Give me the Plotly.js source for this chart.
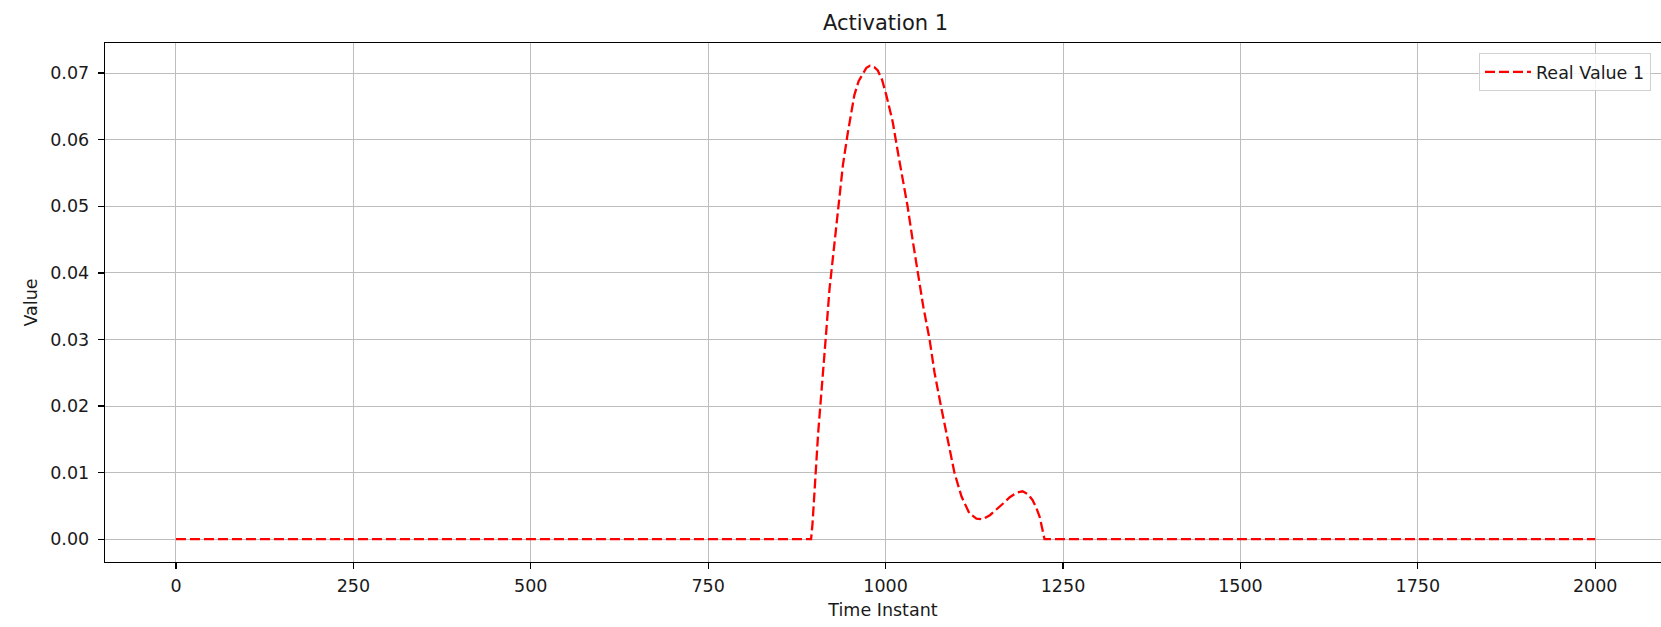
<!DOCTYPE html>
<html>
<head>
<meta charset="utf-8">
<script src="https://cdn.plot.ly/plotly-3.0.1.min.js"></script>
<style>html,body{margin:0;padding:0;background:#fff;}#chart{width:1661px;height:627px;}</style>
</head>
<body>
<div id="chart"></div>
<script>
// Data
const timeInstant = [0, 895, 897, 901, 905, 908, 912, 915.5, 921, 928, 933, 940, 947, 956, 962, 968, 973, 978,
  984, 989, 995, 1001, 1010, 1018, 1025, 1031, 1038, 1045, 1053, 1062, 1069, 1078, 1088, 1097, 1107, 1118,
  1128, 1137, 1147, 1156, 1166, 1175, 1185, 1193, 1200, 1207, 1212, 1217, 1221, 1224, 2000];
const realValue1 = [0, 0, 0.0023, 0.010, 0.016, 0.020, 0.026, 0.030, 0.0376, 0.0443, 0.050, 0.0563, 0.0612, 0.0667, 0.0688, 0.0700, 0.0708, 0.0711,
  0.0709, 0.0704, 0.0690, 0.0667, 0.0627, 0.0577, 0.0535, 0.050, 0.045, 0.040, 0.035, 0.030, 0.025, 0.020, 0.015, 0.010, 0.0064, 0.0039,
  0.0031, 0.0030, 0.0036, 0.0044, 0.0054, 0.0063, 0.0070, 0.0072, 0.0068, 0.0059, 0.0048, 0.0034, 0.0015, 0, 0];
const xTicks = [0, 250, 500, 750, 1000, 1250, 1500, 1750, 2000];
const yTicks = [0, 0.01, 0.02, 0.03, 0.04, 0.05, 0.06, 0.07];
const yTickLabels = ["0.00", "0.01", "0.02", "0.03", "0.04", "0.05", "0.06", "0.07"];
const seriesName = "Real Value 1";

const font = {family: "DejaVu Sans, sans-serif", size: 17.5, color: "#1a1a1a"};

const trace = {
  x: timeInstant, y: realValue1, type: "scatter", mode: "lines", name: seriesName,
  line: {color: "#ff0000", width: 2.3, dash: "10px,4px"}
};

const axisCommon = {
  showgrid: true, gridcolor: "#bdbdbd", gridwidth: 1,
  showline: true, linecolor: "#000", linewidth: 1.3,
  ticks: "outside", ticklen: 6, tickwidth: 1.3, tickcolor: "#000",
  zeroline: false, tickfont: font
};

const layout = {
  width: 1661, height: 627,
  paper_bgcolor: "#fff", plot_bgcolor: "#fff",
  margin: {l: 105, r: 0, t: 43, b: 65},
  font: font,
  title: {text: "Activation 1", font: {family: font.family, size: 21, color: "#1a1a1a"},
          x: 885.5/1661, xref: "container", xanchor: "center", y: 1 - 23/627, yref: "container", yanchor: "middle"},
  xaxis: Object.assign({}, axisCommon, {
    range: [-100, 2092.7], tickvals: xTicks, mirror: true,
    ticklabelstandoff: 2,
    title: {text: "Time Instant", font: font, standoff: 8}
  }),
  yaxis: Object.assign({}, axisCommon, {
    range: [-0.003424, 0.07452], tickvals: yTicks, ticktext: yTickLabels,
    ticklabelstandoff: 5,
    title: {text: "Value", font: font, standoff: 8}
  }),
  showlegend: true,
  legend: {x: (1479-105)/1556, y: (562-53)/519, xanchor: "left", yanchor: "top",
           bgcolor: "rgba(255,255,255,0.8)", bordercolor: "#d0d0d0", borderwidth: 1,
           itemwidth: 46, font: font}
};

Plotly.newPlot("chart", [trace], layout, {displayModeBar: false, staticPlot: true});
</script>
</body>
</html>
